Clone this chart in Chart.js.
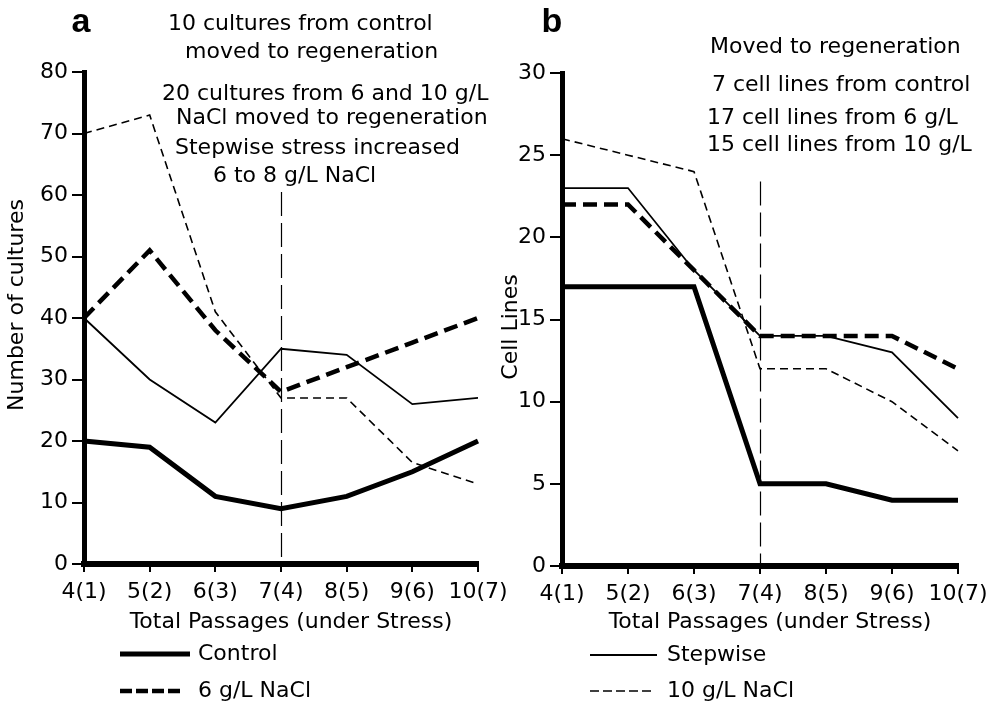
<!DOCTYPE html>
<html>
<head>
<meta charset="utf-8">
<script src="https://cdn.jsdelivr.net/npm/chart.js@4.4.1/dist/chart.umd.min.js"></script>
<style>
  html, body { margin: 0; padding: 0; background: #fff; }
  #wrap { position: relative; width: 998px; height: 701px; overflow: hidden; }
  canvas { position: absolute; top: 0; }
  #panelA { left: 0; }
  #panelB { left: 499px; }
</style>
</head>
<body>
<div id="wrap">
  <!-- panel a is wider so its last tick label can run past the gap -->
  <canvas id="panelA" width="560" height="701"></canvas>
  <canvas id="panelB" width="499" height="701"></canvas>
</div>
<script>
// passages, total (under stress)
const passages = ['4(1)', '5(2)', '6(3)', '7(4)', '8(5)', '9(6)', '10(7)'];

// a: number of cultures
const culturesControl  = [20, 19, 11, 9, 11, 15, 20];
const cultures6g       = [40, 51, 38, 28, 32, 36, 40];
const culturesStepwise = [40, 30, 23, 35, 34, 26, 27];
const cultures10g      = [70, 73, 41, 27, 27, 16.5, 13];

// b: cell lines
const linesControl  = [17, 17, 17, 5, 5, 4, 4];
const lines6g       = [22, 22, 18, 14, 14, 14, 12];
const linesStepwise = [23, 23, 18, 14, 14, 13, 9];
const lines10g      = [26, 25, 24, 12, 12, 10, 7];

const notesA = [
  '10 cultures from control',
  'moved to regeneration',
  '20 cultures from 6 and 10 g/L',
  'NaCl moved to regeneration',
  'Stepwise stress increased',
  '6 to 8 g/L NaCl'
];
const notesB = [
  'Moved to regeneration',
  '7 cell lines from control',
  '17 cell lines from 6 g/L',
  '15 cell lines from 10 g/L'
];

const FONT = 'DejaVu Sans';
Chart.defaults.font.family = FONT;
Chart.defaults.color = '#000';

const styles = {
  control:  { borderWidth: 5,   borderDash: [] },
  g6:       { borderWidth: 4.5, borderDash: [14, 7] },
  stepwise: { borderWidth: 1.8, borderDash: [] },
  g10:      { borderWidth: 1.6, borderDash: [8, 5] }
};

function series(label, data, style) {
  return Object.assign({
    label, data,
    borderColor: '#000',
    backgroundColor: '#000',
    pointRadius: 0,
    tension: 0,
    fill: false,
    borderCapStyle: 'butt',
    borderJoinStyle: 'miter'
  }, style);
}

// dashed marker at the 7(4) passage, drawn from a value down to zero
function markerPlugin(topValue) {
  return {
    id: 'marker',
    beforeDatasetsDraw(chart) {
      const { ctx, scales: { x, y } } = chart;
      const px = Math.round(x.getPixelForValue(3)) + 0.5;
      ctx.save();
      ctx.strokeStyle = '#000';
      ctx.lineWidth = 1.2;
      ctx.setLineDash([24, 7]);
      ctx.beginPath();
      ctx.moveTo(px, y.getPixelForValue(topValue));
      ctx.lineTo(px, y.getPixelForValue(0));
      ctx.stroke();
      ctx.restore();
    }
  };
}

function textPlugin(cfg) {
  return {
    id: 'texts',
    afterDraw(chart) {
      const { ctx } = chart;
      ctx.save();
      ctx.fillStyle = '#000';
      ctx.textBaseline = 'middle';

      // panel letter
      ctx.font = 'bold 34px "Liberation Sans"';
      ctx.textAlign = 'center';
      ctx.fillText(cfg.letter[0], cfg.letter[1], cfg.letter[2]);

      // notes
      ctx.font = '22px "' + FONT + '"';
      ctx.textAlign = 'left';
      cfg.notes.forEach((t, i) => ctx.fillText(t, cfg.notePos[i][0], cfg.notePos[i][1]));

      // axis titles
      ctx.textAlign = 'center';
      ctx.fillText('Total Passages (under Stress)', cfg.xTitle[0], cfg.xTitle[1]);
      ctx.save();
      ctx.translate(cfg.yTitle[1], cfg.yTitle[2]);
      ctx.rotate(-Math.PI / 2);
      ctx.fillText(cfg.yTitle[0], 0, 0);
      ctx.restore();

      // legend
      ctx.textAlign = 'left';
      cfg.legend.forEach(item => {
        ctx.save();
        ctx.strokeStyle = '#000';
        ctx.lineWidth = item.style.borderWidth;
        ctx.setLineDash(item.dash || item.style.borderDash);
        ctx.beginPath();
        ctx.moveTo(item.x1, item.y);
        ctx.lineTo(item.x2, item.y);
        ctx.stroke();
        ctx.restore();
        ctx.fillText(item.label, item.tx, item.y);
      });
      ctx.restore();
    }
  };
}

function makeChart(id, opts) {
  const tickFont = { family: FONT, size: 22 };
  return new Chart(document.getElementById(id), {
    type: 'line',
    data: { labels: passages, datasets: opts.datasets },
    options: {
      responsive: false,
      animation: false,
      layout: { padding: opts.padding },
      plugins: { legend: { display: false }, tooltip: { enabled: false } },
      scales: {
        x: {
          offset: false,
          grid: { drawOnChartArea: false, drawTicks: true, tickLength: 8, lineWidth: 2, color: '#000' },
          border: { width: 6, color: '#000' },
          ticks: { font: tickFont, color: '#000', padding: 7, maxRotation: 0, autoSkip: false },
          afterFit(s) { s.height = opts.xHeight; s.paddingLeft = 0; s.paddingRight = 0; }
        },
        y: {
          min: 0, max: opts.yMax,
          grid: { drawOnChartArea: false, drawTicks: true, tickLength: 12, lineWidth: 2, color: '#000' },
          border: { width: 5, color: '#000' },
          ticks: { stepSize: opts.yStep, font: tickFont, color: '#000', padding: 4 },
          afterFit(s) { s.width = opts.yWidth; s.paddingTop = 0; s.paddingBottom = 0; }
        }
      }
    },
    plugins: [markerPlugin(opts.markerTop), textPlugin(opts.text)]
  });
}

makeChart('panelA', {
  datasets: [
    series('Control', culturesControl, styles.control),
    series('6 g/L NaCl', cultures6g, styles.g6),
    series('Stepwise', culturesStepwise, styles.stepwise),
    series('10 g/L NaCl', cultures10g, styles.g10)
  ],
  padding: { left: 0, right: 82, top: 72, bottom: 0 },
  xHeight: 137, yWidth: 84, yMax: 80, yStep: 10, markerTop: 60.5,
  text: {
    letter: ['a', 81, 23],
    notes: notesA,
    notePos: [[168, 24], [185, 52], [162, 94], [176, 118], [175, 148], [213, 176]],
    xTitle: [291, 622],
    yTitle: ['Number of cultures', 17, 305],
    legend: [
      { label: 'Control', style: styles.control, x1: 120, x2: 190, y: 654, tx: 198 },
      { label: '6 g/L NaCl', style: styles.g6, dash: [12, 4], x1: 120, x2: 181, y: 691, tx: 198 }
    ]
  }
});

makeChart('panelB', {
  datasets: [
    series('Control', linesControl, styles.control),
    series('6 g/L NaCl', lines6g, styles.g6),
    series('Stepwise', linesStepwise, styles.stepwise),
    series('10 g/L NaCl', lines10g, styles.g10)
  ],
  padding: { left: 0, right: 40, top: 73, bottom: 0 },
  xHeight: 135, yWidth: 63, yMax: 30, yStep: 5, markerTop: 23.4,
  text: {
    letter: ['b', 53, 23],
    notes: notesB,
    notePos: [[211, 47], [213, 85], [208, 118], [208, 145]],
    xTitle: [271, 622],
    yTitle: ['Cell Lines', 12, 327],
    legend: [
      { label: 'Stepwise', style: styles.stepwise, x1: 91, x2: 158, y: 655, tx: 168 },
      { label: '10 g/L NaCl', style: styles.g10, dash: [9, 4], x1: 91, x2: 156, y: 691, tx: 168 }
    ]
  }
});
</script>
</body>
</html>
